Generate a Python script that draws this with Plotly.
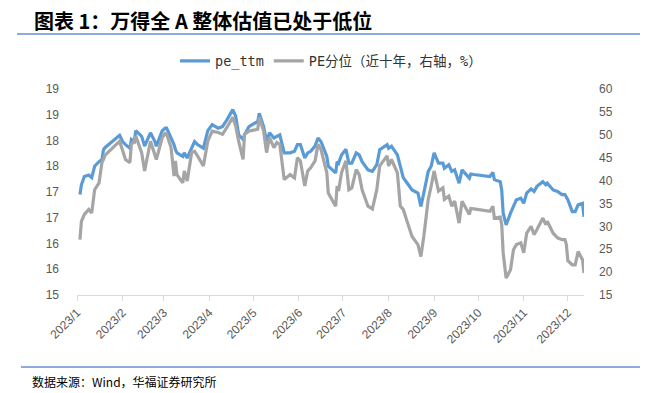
import plotly.graph_objects as go

dates = [
    "2023-01-03", "2023-01-04", "2023-01-06", "2023-01-09", "2023-01-11", "2023-01-13", "2023-01-16",
    "2023-01-18", "2023-01-19", "2023-01-20", "2023-01-30", "2023-01-31", "2023-02-01", "2023-02-03",
    "2023-02-06", "2023-02-07", "2023-02-09", "2023-02-10", "2023-02-14", "2023-02-16", "2023-02-20",
    "2023-02-23", "2023-02-24", "2023-02-28", "2023-03-02", "2023-03-03", "2023-03-06", "2023-03-08",
    "2023-03-09", "2023-03-10", "2023-03-14", "2023-03-15", "2023-03-17", "2023-03-20", "2023-03-22",
    "2023-03-24", "2023-03-28", "2023-03-31", "2023-04-03", "2023-04-07", "2023-04-10", "2023-04-13",
    "2023-04-17", "2023-04-19", "2023-04-21", "2023-04-24", "2023-04-25", "2023-04-28", "2023-05-04",
    "2023-05-05", "2023-05-08", "2023-05-10", "2023-05-12", "2023-05-15", "2023-05-17", "2023-05-19",
    "2023-05-22", "2023-05-26", "2023-05-29", "2023-05-31", "2023-06-02", "2023-06-05", "2023-06-07",
    "2023-06-09", "2023-06-12", "2023-06-14", "2023-06-16", "2023-06-20", "2023-06-21", "2023-06-26",
    "2023-06-27", "2023-06-28", "2023-06-30", "2023-07-03", "2023-07-05", "2023-07-07", "2023-07-10",
    "2023-07-12", "2023-07-14", "2023-07-18", "2023-07-21", "2023-07-24", "2023-07-26", "2023-07-31",
    "2023-08-01", "2023-08-03", "2023-08-07", "2023-08-09", "2023-08-11", "2023-08-14", "2023-08-17",
    "2023-08-21", "2023-08-23", "2023-08-25", "2023-08-28", "2023-08-30", "2023-09-01", "2023-09-04",
    "2023-09-07", "2023-09-08", "2023-09-11", "2023-09-13", "2023-09-15", "2023-09-18", "2023-09-20",
    "2023-09-25", "2023-09-26", "2023-09-28", "2023-10-09", "2023-10-11", "2023-10-12", "2023-10-16",
    "2023-10-17", "2023-10-18", "2023-10-19", "2023-10-20", "2023-10-23", "2023-10-25", "2023-10-27",
    "2023-10-30", "2023-11-01", "2023-11-03", "2023-11-06", "2023-11-08", "2023-11-10", "2023-11-14",
    "2023-11-16", "2023-11-17", "2023-11-21", "2023-11-24", "2023-11-27", "2023-11-29", "2023-11-30",
    "2023-12-01", "2023-12-04", "2023-12-06", "2023-12-08", "2023-12-11", "2023-12-12",
]

pe_ttm = [
    16.95, 17.14, 17.30, 17.33, 17.28, 17.50, 17.59,
    17.63, 17.82, 17.86, 18.10, 18.04, 17.98, 17.92,
    17.85, 18.02, 17.98, 18.19, 18.08, 17.89, 18.15,
    17.98, 17.89, 18.19, 18.24, 18.24, 18.05, 17.92,
    17.82, 17.76, 17.69, 17.76, 17.66, 17.85, 17.98,
    17.92, 17.85, 18.19, 18.31, 18.24, 18.27, 18.40,
    18.60, 18.47, 18.11, 18.02, 18.11, 18.27, 18.37,
    18.53, 18.27, 17.98, 18.15, 18.05, 18.08, 18.11,
    17.76, 17.76, 17.79, 17.92, 17.92, 17.66, 17.76,
    17.79, 17.89, 18.05, 17.98, 17.69, 17.50, 17.37,
    17.59, 17.56, 17.72, 17.83, 17.56, 17.56, 17.76,
    17.72, 17.59, 17.43, 17.40, 17.53, 17.82, 17.92,
    17.85, 17.89, 17.72, 17.47, 17.28, 17.16, 17.04,
    16.98, 16.72, 16.98, 17.40, 17.50, 17.76, 17.56,
    17.56, 17.46, 17.53, 17.40, 17.43, 17.17, 17.43,
    17.27, 17.35, 17.34, 17.30, 17.38, 17.24, 17.20,
    17.04, 16.59, 16.50, 16.36, 16.59, 16.73, 16.85,
    16.88, 16.78, 16.98, 17.06, 17.01, 17.11, 17.20,
    17.14, 17.17, 17.04, 17.01, 16.95, 16.95, 16.90,
    16.85, 16.62, 16.62, 16.75, 16.78, 16.52,
]

pe_pct = [
    27.1, 31.1, 32.6, 33.7, 32.9, 38.0, 39.5,
    44.0, 44.6, 45.5, 48.6, 47.5, 46.4, 44.6,
    43.9, 47.9, 48.6, 49.7, 46.1, 42.1, 48.6,
    45.7, 44.6, 49.4, 50.3, 50.1, 47.2, 41.0,
    44.3, 41.3, 39.5, 42.1, 39.9, 46.1, 46.4,
    45.4, 43.2, 48.6, 50.8, 50.5, 50.1, 51.6,
    53.8, 51.9, 48.6, 44.6, 50.1, 50.8, 51.2,
    53.8, 50.8, 46.1, 49.4, 47.2, 48.3, 47.9,
    40.2, 41.3, 40.6, 45.0, 44.3, 38.8, 42.1,
    42.8, 44.3, 47.9, 46.8, 41.7, 37.3, 34.4,
    38.8, 37.7, 41.7, 44.3, 38.0, 38.4, 42.4,
    41.3, 38.0, 34.4, 33.8, 38.0, 43.2, 45.4,
    43.2, 44.6, 41.7, 34.4, 33.7, 30.7, 27.8,
    26.0, 23.4, 27.8, 35.9, 38.8, 42.1, 37.7,
    38.4, 35.9, 36.6, 34.4, 35.5, 30.7, 35.5,
    32.6, 33.9, 33.8, 33.3, 34.4, 31.8, 32.0,
    30.4, 24.2, 20.5, 18.7, 20.5, 24.9, 26.0,
    26.4, 24.2, 28.5, 30.0, 28.2, 29.3, 31.8,
    30.4, 31.1, 28.5, 27.5, 27.1, 27.1, 26.0,
    22.5, 21.6, 21.6, 24.5, 22.7, 19.8,
]

month_ticks = ["2023-01-01", "2023-02-01", "2023-03-01", "2023-04-01", "2023-05-01", "2023-06-01",
               "2023-07-01", "2023-08-01", "2023-09-01", "2023-10-01", "2023-11-01", "2023-12-01"]
month_labels = ["2023/1", "2023/2", "2023/3", "2023/4", "2023/5", "2023/6",
                "2023/7", "2023/8", "2023/9", "2023/10", "2023/11", "2023/12"]

left_tickvals = [15, 15.5, 16, 16.5, 17, 17.5, 18, 18.5, 19]
left_ticktext = ["15", "16", "16", "17", "17", "18", "18", "19", "19"]
right_tickvals = [15, 20, 25, 30, 35, 40, 45, 50, 55, 60]

title_text = "图表 1：万得全 A 整体估值已处于低位"
source_text = "数据来源：Wind，华福证券研究所"

W, H = 654, 393
PX0, PX1, PY0, PY1 = 77, 584, 89, 295   # plot area in window pixels
L, R, T, B = PX0, W - PX1, PY0, H - PY1
pw, ph = PX1 - PX0, PY1 - PY0


def px_x(x):
    return (x - PX0) / pw


def px_y(y):
    return (PY1 - y) / ph


tick_font = dict(family="Liberation Sans, Arial, sans-serif", size=12, color="#595959")

fig = go.Figure()
fig.add_trace(go.Scatter(
    x=dates, y=pe_ttm, name="pe_ttm", mode="lines",
    line=dict(color="#5B9BD5", width=3.2), yaxis="y",
))
fig.add_trace(go.Scatter(
    x=dates, y=pe_pct, name="PE分位（近十年，右轴，%）", mode="lines",
    line=dict(color="#A5A5A5", width=3.2), yaxis="y2",
))

fig.update_layout(
    width=W, height=H,
    margin=dict(l=L, r=R, t=T, b=B, pad=0),
    paper_bgcolor="white", plot_bgcolor="white",
    showlegend=True,
    legend=dict(
        orientation="h", x=px_x(331), y=px_y(61), xanchor="center", yanchor="middle",
        font=dict(family="DejaVu Sans Mono, Noto Sans CJK SC, monospace", size=13.5, color="#333333"),
        itemwidth=30, bgcolor="rgba(0,0,0,0)", tracegroupgap=0,
    ),
    xaxis=dict(
        type="date", range=["2023-01-01", "2023-12-12"],
        tickmode="array", tickvals=month_ticks, ticktext=month_labels,
        tickangle=-45, tickfont=tick_font,
        showgrid=False, zeroline=False,
        showline=True, linecolor="#D9D9D9", linewidth=1,
        ticks="outside", ticklen=5, tickcolor="#D9D9D9",
    ),
    yaxis=dict(
        range=[15, 19], tickmode="array", tickvals=left_tickvals, ticktext=left_ticktext,
        tickfont=tick_font, showgrid=False, zeroline=False, showline=False,
        ticks="", ticklabelstandoff=17,
    ),
    yaxis2=dict(
        range=[15, 60], tickmode="array", tickvals=right_tickvals,
        tickfont=tick_font, showgrid=False, zeroline=False, showline=False,
        overlaying="y", side="right", ticks="", ticklabelstandoff=14,
    ),
    font=dict(family="Noto Sans CJK SC, sans-serif"),
)

fig.add_annotation(
    text=title_text, xref="paper", yref="paper", x=px_x(32), y=px_y(20.5),
    xanchor="left", yanchor="middle", showarrow=False,
    font=dict(family="Noto Sans CJK SC, sans-serif", size=20, color="#000000", weight="bold"),
)
fig.add_annotation(
    text=source_text, xref="paper", yref="paper", x=px_x(30), y=px_y(381),
    xanchor="left", yanchor="middle", showarrow=False,
    font=dict(family="Noto Sans CJK SC, sans-serif", size=12, color="#000000"),
)
fig.add_shape(type="line", xref="paper", yref="paper",
              x0=px_x(17), x1=px_x(640), y0=px_y(34), y1=px_y(34),
              line=dict(color="#8FAADC", width=2))
fig.add_shape(type="line", xref="paper", yref="paper",
              x0=px_x(21), x1=px_x(640), y0=px_y(367), y1=px_y(367),
              line=dict(color="#8FAADC", width=2))

fig.write_html(
    "out.html",
    config={"displayModeBar": False},
    post_script="document.body.style.margin='0';document.body.style.padding='0';",
)
